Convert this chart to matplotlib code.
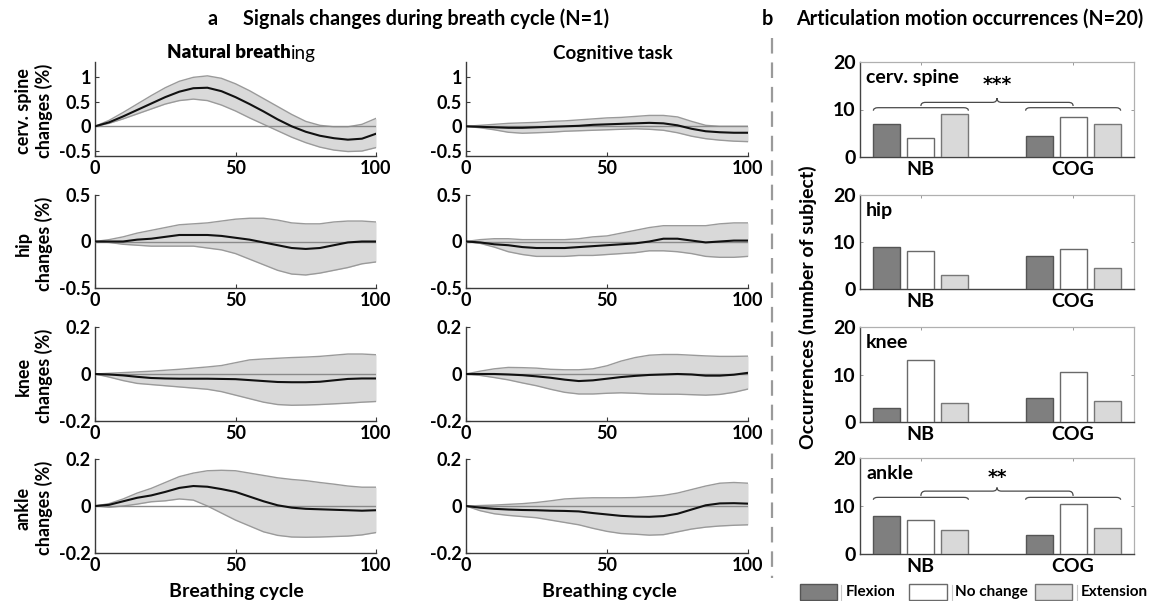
import matplotlib
matplotlib.use("Agg")
import matplotlib.pyplot as plt
import numpy as np
from matplotlib.path import Path
from matplotlib.patches import PathPatch, Rectangle
from matplotlib.lines import Line2D

plt.rcParams['font.family'] = ['Lato', 'DejaVu Sans']
plt.rcParams['font.weight'] = 'bold'

# ---------------- data: line panels (x = breathing cycle %) ----------------
cycle = [0, 5, 10, 15, 20, 25, 30, 35, 40, 45, 50, 55, 60, 65, 70, 75, 80, 85, 90, 95, 100]

nb_cerv_mean = [0, 0.08, 0.2, 0.33, 0.46, 0.59, 0.7, 0.77, 0.78, 0.71, 0.59, 0.45, 0.3, 0.14, 0.0, -0.11, -0.19, -0.24, -0.27, -0.25, -0.15]
nb_cerv_up = [0, 0.12, 0.28, 0.45, 0.62, 0.78, 0.91, 0.99, 1.02, 0.97, 0.86, 0.72, 0.56, 0.4, 0.24, 0.1, 0.02, -0.01, -0.01, 0.04, 0.16]
nb_cerv_lo = [0, 0.06, 0.15, 0.25, 0.35, 0.45, 0.52, 0.55, 0.52, 0.43, 0.31, 0.17, 0.04, -0.09, -0.22, -0.33, -0.42, -0.48, -0.51, -0.5, -0.43]

cog_cerv_mean = [0, -0.01, -0.02, -0.03, -0.03, -0.02, -0.01, 0.0, 0.01, 0.03, 0.04, 0.05, 0.06, 0.07, 0.06, 0.02, -0.05, -0.1, -0.12, -0.13, -0.13]
cog_cerv_up = [0, 0.02, 0.04, 0.06, 0.07, 0.08, 0.1, 0.11, 0.13, 0.15, 0.17, 0.18, 0.2, 0.22, 0.22, 0.19, 0.1, 0.02, 0.0, 0.0, 0.0]
cog_cerv_lo = [0, -0.03, -0.07, -0.12, -0.14, -0.13, -0.12, -0.1, -0.09, -0.08, -0.07, -0.06, -0.05, -0.06, -0.08, -0.13, -0.2, -0.25, -0.28, -0.3, -0.31]

nb_hip_mean = [0, 0, 0.0, 0.02, 0.03, 0.05, 0.07, 0.07, 0.07, 0.06, 0.04, 0.02, -0.01, -0.04, -0.07, -0.08, -0.07, -0.04, -0.01, 0.0, 0.0]
nb_hip_up = [0, 0.02, 0.05, 0.09, 0.12, 0.15, 0.18, 0.19, 0.2, 0.22, 0.24, 0.25, 0.25, 0.23, 0.2, 0.19, 0.19, 0.21, 0.22, 0.22, 0.21]
nb_hip_lo = [0, -0.01, -0.03, -0.04, -0.05, -0.05, -0.05, -0.05, -0.07, -0.09, -0.13, -0.19, -0.25, -0.31, -0.35, -0.36, -0.34, -0.31, -0.28, -0.24, -0.22]

cog_hip_mean = [0, -0.01, -0.03, -0.04, -0.06, -0.07, -0.07, -0.07, -0.06, -0.05, -0.04, -0.03, -0.02, 0.0, 0.03, 0.03, 0.01, -0.01, 0.0, 0.01, 0.01]
cog_hip_up = [0, 0.02, 0.03, 0.03, 0.02, 0.02, 0.02, 0.02, 0.03, 0.05, 0.06, 0.09, 0.12, 0.15, 0.17, 0.17, 0.17, 0.17, 0.19, 0.2, 0.2]
cog_hip_lo = [0, -0.02, -0.06, -0.11, -0.14, -0.16, -0.16, -0.16, -0.15, -0.15, -0.14, -0.13, -0.12, -0.1, -0.1, -0.11, -0.13, -0.16, -0.17, -0.17, -0.16]

nb_knee_mean = [0, -0.002, -0.006, -0.012, -0.017, -0.019, -0.02, -0.02, -0.02, -0.021, -0.022, -0.026, -0.03, -0.034, -0.035, -0.035, -0.033, -0.027, -0.021, -0.019, -0.019]
nb_knee_up = [0, 0.003, 0.006, 0.009, 0.012, 0.016, 0.02, 0.025, 0.03, 0.036, 0.048, 0.06, 0.064, 0.067, 0.07, 0.072, 0.075, 0.08, 0.085, 0.085, 0.082]
nb_knee_lo = [0, -0.013, -0.028, -0.04, -0.045, -0.05, -0.055, -0.06, -0.065, -0.075, -0.09, -0.105, -0.12, -0.13, -0.133, -0.132, -0.13, -0.127, -0.124, -0.12, -0.117]

cog_knee_mean = [0, 0.0, 0.0, -0.002, -0.005, -0.01, -0.016, -0.024, -0.03, -0.027, -0.02, -0.013, -0.008, -0.004, -0.002, 0.0, -0.002, -0.007, -0.007, -0.003, 0.005]
cog_knee_up = [0, 0.012, 0.022, 0.028, 0.027, 0.025, 0.02, 0.018, 0.018, 0.022, 0.035, 0.055, 0.07, 0.08, 0.083, 0.083, 0.08, 0.077, 0.075, 0.075, 0.076]
cog_knee_lo = [0, -0.006, -0.015, -0.025, -0.038, -0.05, -0.065, -0.078, -0.085, -0.085, -0.082, -0.08, -0.082, -0.085, -0.086, -0.086, -0.088, -0.09, -0.087, -0.078, -0.064]

nb_ankle_mean = [0, 0.005, 0.02, 0.035, 0.045, 0.06, 0.077, 0.085, 0.082, 0.072, 0.06, 0.04, 0.02, 0.003, -0.007, -0.012, -0.014, -0.016, -0.018, -0.02, -0.018]
nb_ankle_up = [0, 0.01, 0.03, 0.055, 0.075, 0.1, 0.125, 0.14, 0.15, 0.152, 0.15, 0.14, 0.13, 0.12, 0.113, 0.108, 0.1, 0.093, 0.085, 0.08, 0.08]
nb_ankle_lo = [0, -0.005, 0.0, 0.008, 0.018, 0.022, 0.03, 0.025, 0.0, -0.03, -0.06, -0.085, -0.11, -0.125, -0.132, -0.133, -0.132, -0.13, -0.128, -0.123, -0.113]

cog_ankle_mean = [0, -0.007, -0.012, -0.015, -0.017, -0.018, -0.02, -0.021, -0.023, -0.03, -0.036, -0.042, -0.045, -0.046, -0.043, -0.033, -0.015, 0.003, 0.011, 0.012, 0.01]
cog_ankle_up = [0, 0.002, 0.004, 0.007, 0.01, 0.015, 0.022, 0.03, 0.033, 0.035, 0.035, 0.035, 0.036, 0.04, 0.045, 0.055, 0.07, 0.085, 0.097, 0.1, 0.097]
cog_ankle_lo = [0, -0.02, -0.033, -0.04, -0.045, -0.05, -0.06, -0.07, -0.08, -0.095, -0.108, -0.117, -0.12, -0.124, -0.122, -0.11, -0.098, -0.09, -0.085, -0.082, -0.08]

joints = ['cerv. spine', 'hip', 'knee', 'ankle']
row_ylims = [(-0.6, 1.3), (-0.5, 0.5), (-0.2, 0.2), (-0.2, 0.2)]
row_yticks = [[-0.5, 0, 0.5, 1], [-0.5, 0, 0.5], [-0.2, 0, 0.2], [-0.2, 0, 0.2]]
row_yticklabels = [['-0.5', '0', '0.5', '1'], ['-0.5', '0', '0.5'], ['-0.2', '0', '0.2'], ['-0.2', '0', '0.2']]
x_ticks = [0, 50, 100]

nb_series = [(nb_cerv_mean, nb_cerv_up, nb_cerv_lo), (nb_hip_mean, nb_hip_up, nb_hip_lo),
             (nb_knee_mean, nb_knee_up, nb_knee_lo), (nb_ankle_mean, nb_ankle_up, nb_ankle_lo)]
cog_series = [(cog_cerv_mean, cog_cerv_up, cog_cerv_lo), (cog_hip_mean, cog_hip_up, cog_hip_lo),
              (cog_knee_mean, cog_knee_up, cog_knee_lo), (cog_ankle_mean, cog_ankle_up, cog_ankle_lo)]

# ---------------- data: bar panels ----------------
groups = ['NB', 'COG']
motions = ['Flexion', 'No change', 'Extension']
cerv_counts = {'Flexion': [7, 4.5], 'No change': [4, 8.5], 'Extension': [9, 7]}
hip_counts = {'Flexion': [9, 7], 'No change': [8, 8.5], 'Extension': [3, 4.5]}
knee_counts = {'Flexion': [3, 5], 'No change': [13, 10.5], 'Extension': [4, 4.5]}
ankle_counts = {'Flexion': [8, 4], 'No change': [7, 10.5], 'Extension': [5, 5.5]}
bar_counts = [cerv_counts, hip_counts, knee_counts, ankle_counts]
significance = ['***', None, None, '**']
bar_yticks = [0, 10, 20]

# ---------------- layout ----------------
W, H = 1150, 601
fig = plt.figure(figsize=(W / 100, H / 100), dpi=100)


def rect(x0, x1, y0, y1):
    return [x0 / W, 1 - y1 / H, (x1 - x0) / W, (y1 - y0) / H]


def fx(x):
    return x / W


def fy(y):
    return 1 - y / H


row_px = [(62, 156), (195, 288), (327, 421), (459, 553)]
bar_row_px = [(62, 157), (195, 289), (327, 422), (458, 554)]
col_px = [(95, 376), (466, 748)]

spine_col = '#3a3a3a'
tick_fs = 13

for r in range(4):
    for c, series in enumerate([nb_series, cog_series]):
        ax = fig.add_axes(rect(col_px[c][0], col_px[c][1], row_px[r][0], row_px[r][1]))
        mean, up, lo = series[r]
        ax.fill_between(cycle, lo, up, color='#d9d9d9', lw=0, zorder=1)
        ax.plot(cycle, up, color='#9a9a9a', lw=1.0, zorder=2)
        ax.plot(cycle, lo, color='#9a9a9a', lw=1.0, zorder=2)
        ax.axhline(0, color='#8a8a8a', lw=1.0, zorder=3)
        ax.plot(cycle, mean, color='#111111', lw=1.5, zorder=4)
        ax.set_xlim(0, 100)
        ax.set_ylim(*row_ylims[r])
        ax.set_xticks(x_ticks)
        ax.set_xticklabels([str(t) for t in x_ticks])
        ax.set_yticks(row_yticks[r])
        ax.set_yticklabels(row_yticklabels[r])
        for s in ['top', 'right']:
            ax.spines[s].set_visible(False)
        for s in ['left', 'bottom']:
            ax.spines[s].set_color(spine_col)
            ax.spines[s].set_linewidth(1.0)
        ax.tick_params(direction='in', length=3, width=0.8, color=spine_col,
                       labelsize=tick_fs, colors='black')
        ax.tick_params(axis='x', pad=3)
        ax.tick_params(axis='y', pad=3)
        ax.set_facecolor('none')

    # row y labels
    cy = (row_px[r][0] + row_px[r][1]) / 2
    fig.text(fx(34), fy(cy + 2), joints[r] + '\nchanges (%)', rotation=90, ha='center', va='center',
             fontsize=13, fontweight='bold', linespacing=1.25, multialignment='center')

# column titles
renderer = fig.canvas.get_renderer()
t1 = fig.text(fx(167), fy(53), 'Natural breath', ha='left', va='center', fontsize=13.5, fontweight='heavy')
bb = t1.get_window_extent(renderer=renderer)
fig.text(bb.x1 / W + 0.5 / W, fy(53), 'ing', ha='left', va='center', fontsize=13.5, fontweight='normal')
fig.text(fx(613), fy(53), 'Cognitive task', ha='center', va='center', fontsize=13.5, fontweight='bold')

# x labels
fig.text(fx(236), fy(592), 'Breathing cycle', ha='center', va='center', fontsize=14, fontweight='bold')
fig.text(fx(609), fy(592), 'Breathing cycle', ha='center', va='center', fontsize=14, fontweight='bold')

# panel titles
fig.text(fx(213), fy(19), 'a', ha='center', va='center', fontsize=14.2, fontweight='bold')
fig.text(fx(243), fy(19), 'Signals changes during breath cycle (N=1)', ha='left', va='center',
         fontsize=14.2, fontweight='bold')
fig.text(fx(767), fy(19), 'b', ha='center', va='center', fontsize=14.2, fontweight='bold')
fig.text(fx(796), fy(19), 'Articulation motion occurrences (N=20)', ha='left', va='center',
         fontsize=14.1, fontweight='bold')

# dashed separator
fig.add_artist(Line2D([fx(772), fx(772)], [fy(38), fy(578)], color='#9a9a9a', lw=1.6,
                      linestyle=(0, (7, 4))))

# ---------------- bar panels ----------------
bar_colors = {'Flexion': '#7f7f7f', 'No change': '#ffffff', 'Extension': '#d9d9d9'}
bar_edges = {'Flexion': '#555555', 'No change': '#6a6a6a', 'Extension': '#777777'}
offsets = [-0.223, 0.0, 0.223]
bw = 0.178
gpos = np.arange(1, len(groups) + 1)


def bracket(ax, x1, x2, y_line, y_end, d):
    verts = [(x1, y_end), (x1, y_line), (x1 + d, y_line), (x2 - d, y_line), (x2, y_line), (x2, y_end)]
    codes = [Path.MOVETO, Path.CURVE3, Path.CURVE3, Path.LINETO, Path.CURVE3, Path.CURVE3]
    ax.add_patch(PathPatch(Path(verts, codes), fill=False, edgecolor='#4a4a4a', lw=0.9, zorder=5))


def brace(ax, x1, x2, y_end, y_line, y_tip, d):
    xm = (x1 + x2) / 2
    verts = [(x1, y_end), (x1, y_line), (x1 + d, y_line), (xm - d, y_line), (xm, y_line), (xm, y_tip),
             (xm, y_line), (xm + d, y_line), (x2 - d, y_line), (x2, y_line), (x2, y_end)]
    codes = [Path.MOVETO, Path.CURVE3, Path.CURVE3, Path.LINETO, Path.CURVE3, Path.CURVE3,
             Path.CURVE3, Path.CURVE3, Path.LINETO, Path.CURVE3, Path.CURVE3]
    ax.add_patch(PathPatch(Path(verts, codes), fill=False, edgecolor='#4a4a4a', lw=0.9, zorder=5))


brace_levels = {0: (9.75, 10.38, 10.74, 11.5, 12.4, 15.2), 3: (11.3, 11.8, 12.1, 13.1, 13.85, 16.0)}

for r in range(4):
    ax = fig.add_axes(rect(860, 1134, bar_row_px[r][0], bar_row_px[r][1]))
    counts = bar_counts[r]
    for k, m in enumerate(motions):
        ax.bar(gpos + offsets[k], counts[m], width=bw, color=bar_colors[m],
               edgecolor=bar_edges[m], linewidth=1.0, zorder=3)
    ax.set_xlim(0.6, 2.4)
    ax.set_ylim(0, 20)
    ax.set_yticks(bar_yticks)
    ax.set_yticklabels([str(t) for t in bar_yticks])
    ax.set_xticks(gpos)
    ax.set_xticklabels(groups)
    ax.tick_params(direction='in', length=2.5, width=0.7, color='#999999', labelsize=14,
                   top=True, right=True, pad=3)
    ax.tick_params(axis='x', pad=3)
    for s in ['left', 'bottom']:
        ax.spines[s].set_color('#444444')
        ax.spines[s].set_linewidth(1.0)
    for s in ['top', 'right']:
        ax.spines[s].set_color('#b0b0b0')
        ax.spines[s].set_linewidth(0.9)
    ax.text(0.022, 0.84, joints[r], transform=ax.transAxes,
            ha='left', va='center', fontsize=14, fontweight='bold')
    if significance[r]:
        y_end, y_line, by_end, by_line, by_tip, y_star = brace_levels[r]
        d = 0.03
        for g in gpos:
            bracket(ax, g + offsets[0] - bw / 2, g + offsets[2] + bw / 2, y_line, y_end, d)
        brace(ax, gpos[0], gpos[1], by_end, by_line, by_tip, d)
        ax.text(gpos.mean(), y_star, significance[r], ha='center', va='center',
                fontsize=13.5, fontweight='bold', family='DejaVu Sans')

fig.text(fx(808), fy(307), 'Occurrences (number of subject)', rotation=90, ha='center', va='center',
         fontsize=14, fontweight='bold')

# legend
leg_items = [('Flexion', 800, 837, 841, 846), ('No change', 909, 947, 952, 955),
             ('Extension', 1035, 1072, 1077, 1081)]
for name, x0, x1, xl, xt in leg_items:
    fig.add_artist(Rectangle((fx(x0), fy(600)), (x1 - x0) / W, 16 / H, transform=fig.transFigure,
                             facecolor=bar_colors[name], edgecolor=bar_edges[name], lw=1.0))
    fig.add_artist(Line2D([fx(xl), fx(xl)], [fy(600), fy(585)], color='#c8c8c8', lw=0.8))
    fig.text(fx(xt), fy(592), name, ha='left', va='center', fontsize=11, fontweight='bold')

fig.savefig('out.png', dpi=100)
